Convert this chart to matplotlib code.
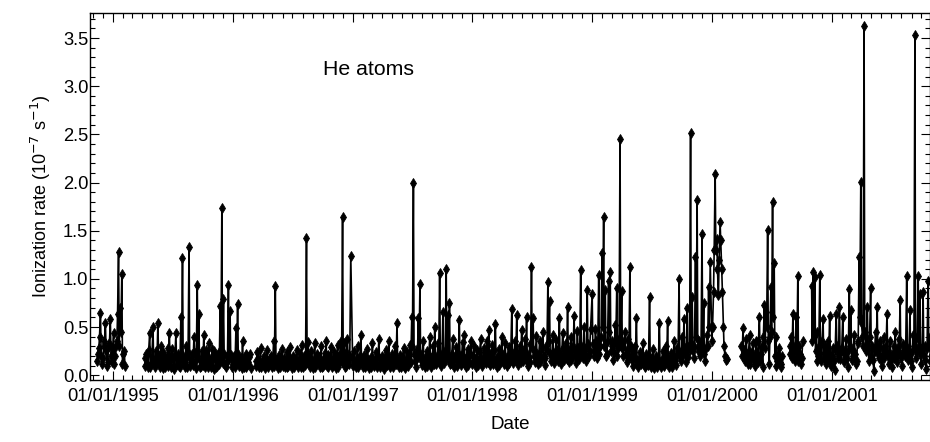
import numpy as np
import pandas as pd
import matplotlib
matplotlib.use('Agg')
import matplotlib.pyplot as plt
import matplotlib.dates as mdates
from matplotlib.ticker import MultipleLocator, FormatStrFormatter

plt.rcParams['font.family'] = ['Liberation Sans', 'DejaVu Sans']

# He ionization rate (1e-7 /s). Each stretch of data has a start date, a list of
# values every 5 days ("rate_") and a list of values 2 days after each of those ("mid_").
start_dates = ['1994-11-14', '1995-04-08', '1996-01-01', '1997-01-01', '1998-01-01',
               '1999-01-01', '2000-01-01', '2000-03-31', '2000-08-25', '2000-10-31']

rate_1994 = [0.15, 0.28, 0.65, 0.12, 0.30, 0.54, 0.10, 0.33, 0.58, 0.14,
             0.44, 0.20, 0.35, 1.28, 0.70, 1.05, 0.22, 0.10]
mid_1994 = [0.22, 0.40, 0.20, 0.18, 0.35, 0.25, 0.14, 0.30, 0.20, 0.28,
            0.12, 0.30, 0.63, 0.30, 0.45, 0.12, 0.25]

rate_1995 = [0.10, 0.22, 0.08, 0.44, 0.12, 0.50, 0.09, 0.25, 0.54, 0.11,
             0.30, 0.07, 0.20, 0.13, 0.28, 0.44, 0.09, 0.18, 0.06, 0.44,
             0.15, 0.10, 0.60, 1.22, 0.12, 0.30, 0.08, 1.33, 0.14, 0.22,
             0.40, 0.07, 0.94, 0.63, 0.10, 0.25, 0.42, 0.08, 0.19, 0.33,
             0.12, 0.27, 0.06, 0.21, 0.10, 0.24, 0.72, 1.74, 0.79, 0.11,
             0.20, 0.94, 0.67, 0.09]
mid_1995 = [0.18, 0.12, 0.26, 0.09, 0.20, 0.15, 0.11, 0.14, 0.20, 0.08,
            0.15, 0.24, 0.09, 0.19, 0.10, 0.16, 0.27, 0.08, 0.21, 0.12,
            0.22, 0.08, 0.16, 0.20, 0.09, 0.18, 0.24, 0.10, 0.17, 0.11,
            0.23, 0.16, 0.20, 0.08, 0.15, 0.11, 0.14, 0.26, 0.09, 0.18,
            0.08, 0.17, 0.25, 0.09, 0.16, 0.12, 0.20, 0.13, 0.22, 0.08,
            0.14, 0.18, 0.21]

rate_1996 = [0.12, 0.20, 0.49, 0.74, 0.10, 0.18, 0.35, 0.08, 0.22, 0.11,
             0.19, 0.07, np.nan, np.nan, 0.15, 0.24, 0.09, 0.28, 0.12, 0.20,
             0.07, 0.26, 0.14, 0.18, 0.08, 0.36, 0.93, 0.11, 0.21, 0.09,
             0.27, 0.13, 0.08, 0.24, 0.10, 0.29, 0.07, 0.20, 0.12, 0.26,
             0.09, 0.22, 0.31, 0.08, 0.18, 1.42, 0.34, 0.11, 0.25, 0.07,
             0.33, 0.12, 0.20, 0.09, 0.30, 0.10, 0.23, 0.35, 0.08, 0.19,
             0.29, 0.11, 0.24, 0.07, 0.31, 0.13, 0.36, 1.64, 0.33, 0.10,
             0.38, 0.12, 1.24]
mid_1996 = [0.16, 0.09, 0.14, 0.22, 0.13, 0.07, 0.15, 0.19, 0.08, 0.14,
            0.22, np.nan, np.nan, np.nan, 0.10, 0.17, 0.13, 0.08, 0.16, 0.11,
            0.17, 0.09, 0.12, 0.20, 0.15, 0.10, 0.16, 0.07, 0.18, 0.13,
            0.10, 0.18, 0.14, 0.08, 0.19, 0.11, 0.15, 0.09, 0.17, 0.12,
            0.16, 0.08, 0.13, 0.20, 0.11, 0.14, 0.19, 0.08, 0.16, 0.13,
            0.09, 0.22, 0.14, 0.18, 0.08, 0.17, 0.12, 0.10, 0.21, 0.13,
            0.08, 0.18, 0.12, 0.20, 0.09, 0.22, 0.14, 0.19, 0.08, 0.24,
            0.16, 0.20]

rate_1997 = [0.10, 0.25, 0.08, 0.30, 0.12, 0.42, 0.09, 0.21, 0.14, 0.27,
             0.07, 0.19, 0.33, 0.10, 0.24, 0.08, 0.38, 0.13, 0.20, 0.06,
             0.26, 0.11, 0.35, 0.09, 0.22, 0.14, 0.30, 0.54, 0.08, 0.21,
             0.12, 0.28, 0.07, 0.24, 0.10, 0.31, 0.60, 1.99, 0.15, 0.27,
             0.59, 0.95, 0.11, 0.36, 0.08, 0.25, 0.14, 0.40, 0.09, 0.30,
             0.50, 0.12, 0.33, 1.06, 0.10, 0.66, 0.16, 1.10, 0.62, 0.75,
             0.13, 0.38, 0.09, 0.29, 0.15, 0.57, 0.11, 0.34, 0.42, 0.08,
             0.27, 0.14, 0.36]
mid_1997 = [0.16, 0.13, 0.18, 0.09, 0.20, 0.14, 0.12, 0.09, 0.18, 0.11,
            0.15, 0.09, 0.17, 0.14, 0.12, 0.20, 0.09, 0.16, 0.12, 0.17,
            0.14, 0.19, 0.12, 0.15, 0.08, 0.19, 0.12, 0.15, 0.14, 0.09,
            0.19, 0.10, 0.15, 0.17, 0.20, 0.14, 0.30, 0.22, 0.09, 0.18,
            0.24, 0.16, 0.20, 0.13, 0.18, 0.10, 0.21, 0.15, 0.19, 0.12,
            0.20, 0.17, 0.14, 0.22, 0.18, 0.13, 0.25, 0.20, 0.16, 0.12,
            0.22, 0.15, 0.19, 0.10, 0.23, 0.17, 0.21, 0.14, 0.12, 0.20,
            0.11, 0.22]

rate_1998 = [0.12, 0.30, 0.09, 0.26, 0.15, 0.38, 0.10, 0.28, 0.13, 0.35,
             0.47, 0.11, 0.31, 0.16, 0.53, 0.09, 0.27, 0.14, 0.40, 0.12,
             0.33, 0.10, 0.29, 0.18, 0.69, 0.13, 0.36, 0.62, 0.11, 0.30,
             0.47, 0.15, 0.38, 0.60, 0.10, 0.32, 1.12, 0.59, 0.14, 0.41,
             0.12, 0.35, 0.17, 0.45, 0.11, 0.30, 0.97, 0.77, 0.15, 0.42,
             0.13, 0.37, 0.18, 0.59, 0.12, 0.44, 0.16, 0.33, 0.71, 0.14,
             0.40, 0.19, 0.61, 0.13, 0.46, 0.17, 1.09, 0.22, 0.50, 0.15,
             0.88, 0.20, 0.48]
mid_1998 = [0.20, 0.16, 0.18, 0.11, 0.24, 0.17, 0.16, 0.21, 0.19, 0.14,
            0.22, 0.18, 0.12, 0.26, 0.15, 0.20, 0.11, 0.24, 0.18, 0.21,
            0.15, 0.19, 0.13, 0.25, 0.22, 0.20, 0.16, 0.24, 0.19, 0.14,
            0.26, 0.20, 0.16, 0.22, 0.19, 0.14, 0.28, 0.20, 0.25, 0.17,
            0.22, 0.14, 0.28, 0.20, 0.18, 0.26, 0.35, 0.22, 0.19, 0.24,
            0.20, 0.26, 0.15, 0.22, 0.18, 0.28, 0.21, 0.17, 0.27, 0.22,
            0.16, 0.30, 0.24, 0.19, 0.28, 0.23, 0.30, 0.18, 0.27, 0.21,
            0.32, 0.25]

rate_1999 = [0.84, 0.25, 0.48, 0.18, 1.04, 0.30, 1.27, 1.64, 0.88, 0.22,
             0.98, 1.07, 0.35, 0.16, 0.52, 0.91, 0.28, 2.45, 0.87, 0.20,
             0.45, 0.14, 0.38, 1.12, 0.25, 0.10, 0.30, 0.59, 0.09, 0.24,
             0.12, 0.33, 0.08, 0.22, 0.11, 0.81, 0.09, 0.27, 0.07, 0.20,
             0.12, 0.54, 0.08, 0.25, 0.10, 0.30, 0.56, 0.09, 0.23, 0.13,
             0.35, 0.11, 0.28, 1.00, 0.15, 0.40, 0.58, 0.14, 0.70, 0.30,
             2.51, 0.81, 0.18, 1.23, 1.82, 0.35, 0.20, 1.47, 0.75, 0.15,
             0.42, 0.92, 1.17]
mid_1999 = [0.32, 0.20, 0.35, 0.27, 0.22, 0.40, 0.50, 0.30, 0.20, 0.35,
            0.45, 0.25, 0.30, 0.24, 0.32, 0.20, 0.38, 0.30, 0.28, 0.35,
            0.22, 0.26, 0.20, 0.30, 0.16, 0.20, 0.18, 0.12, 0.17, 0.15,
            0.20, 0.14, 0.10, 0.16, 0.20, 0.13, 0.18, 0.10, 0.14, 0.09,
            0.17, 0.13, 0.16, 0.12, 0.20, 0.15, 0.18, 0.14, 0.09, 0.22,
            0.16, 0.19, 0.25, 0.20, 0.24, 0.21, 0.28, 0.22, 0.19, 0.26,
            0.33, 0.25, 0.30, 0.40, 0.28, 0.24, 0.33, 0.27, 0.22, 0.28,
            0.30, 0.50]

rate_2000a = [0.35, 0.86, 2.09, 1.41, 0.83, 1.59, 1.10, 0.50, 0.20, 0.17]
mid_2000a = [0.50, 1.30, 1.30, 1.10, 1.20, 1.40, 0.86, 0.30, 0.16]

rate_2000b = [0.30, 0.49, 0.15, 0.38, 0.12, 0.42, 0.18, 0.33, 0.10, 0.36,
              0.14, 0.60, 0.22, 0.08, 0.73, 0.66, 1.51, 0.12, 0.92, 1.80,
              1.16, 0.40, 0.15, 0.28, 0.09, 0.20]
mid_2000b = [0.20, 0.26, 0.22, 0.18, 0.25, 0.12, 0.24, 0.16, 0.20, 0.22,
             0.35, 0.15, 0.30, 0.40, 0.28, 0.50, 0.35, 0.40, 0.45, 0.60,
             0.20, 0.10, 0.22, 0.14, 0.12]

rate_2000c = [0.22, 0.40, 0.63, 0.15, 0.60, 1.03, 0.30, 0.12, 0.35]
mid_2000c = [0.30, 0.18, 0.25, 0.30, 0.20, 0.15, 0.22, 0.18]

rate_2001 = [0.93, 1.07, 1.02, 0.45, 0.20, 1.04, 0.15, 0.58, 0.30, 0.12,
             0.35, 0.61, 0.10, 0.28, 0.05, 0.64, 0.18, 0.71, 0.25, 0.60,
             0.14, 0.38, 0.08, 0.89, 0.68, 0.20, 0.42, 0.12, 0.33, 1.23,
             2.01, 0.40, 3.63, 0.25, 0.71, 0.15, 0.91, 0.30, 0.04, 0.45,
             0.71, 0.18, 0.36, 0.10, 0.40, 0.22, 0.64, 0.12, 0.35, 0.08,
             0.30, 0.45, 0.14, 0.38, 0.78, 0.10, 0.32, 0.20, 1.03, 0.16,
             0.68, 0.09, 0.42, 3.53, 0.25, 1.03, 0.84, 0.12, 0.86, 0.30,
             0.06, 0.98, 0.40, 0.20]
mid_2001 = [0.35, 0.40, 0.25, 0.15, 0.30, 0.22, 0.35, 0.18, 0.24, 0.20,
            0.16, 0.22, 0.20, 0.15, 0.27, 0.30, 0.22, 0.17, 0.28, 0.24,
            0.22, 0.18, 0.25, 0.30, 0.16, 0.26, 0.22, 0.15, 0.35, 0.60,
            0.55, 0.30, 0.45, 0.30, 0.26, 0.40, 0.20, 0.16, 0.25, 0.28,
            0.22, 0.30, 0.16, 0.27, 0.18, 0.30, 0.20, 0.24, 0.16, 0.22,
            0.18, 0.25, 0.22, 0.30, 0.18, 0.22, 0.26, 0.30, 0.20, 0.25,
            0.15, 0.24, 0.30, 0.18, 0.40, 0.30, 0.22, 0.28, 0.20, 0.16,
            0.28, 0.30, 0.15]

rates_main = [rate_1994, rate_1995, rate_1996, rate_1997, rate_1998,
              rate_1999, rate_2000a, rate_2000b, rate_2000c, rate_2001]
rates_mid = [mid_1994, mid_1995, mid_1996, mid_1997, mid_1998,
             mid_1999, mid_2000a, mid_2000b, mid_2000c, mid_2001]


def build_series(starts, main, mid, step=5, offset=2):
    # merge both sample lists; a NaN breaks the line across data gaps
    dates, rates = [], []
    last = None
    for s, vals, between in zip(starts, main, mid):
        d_main = pd.date_range(s, periods=len(vals), freq=f'{step}D')
        d_mid = d_main[:len(between)] + pd.Timedelta(days=offset)
        d = d_main.append(d_mid)
        v = np.concatenate([np.asarray(vals, float), np.asarray(between, float)])
        order = np.argsort(d.values)
        d, v = d[order], v[order]
        if last is not None and (d[0] - last).days > 2 * step:
            dates.append(last + pd.Timedelta(days=1))
            rates.append(np.nan)
        dates.extend(d)
        rates.extend(v)
        last = d[-1]
    return pd.DatetimeIndex(dates), np.array(rates, dtype=float)


dates, rates = build_series(start_dates, rates_main, rates_mid)

fig = plt.figure(figsize=(9.3, 4.42), dpi=100)
ax = fig.add_axes([90 / 930, 62 / 442, 840 / 930, 367 / 442])

ax.plot(dates, rates, '-', color='black', lw=1.2,
        marker='d', ms=4.6, mfc='black', mec='black', mew=0.6)

ax.set_xlim(pd.Timestamp('1994-10-23'), pd.Timestamp('2001-10-27'))
ax.set_ylim(-0.05, 3.76)

ax.xaxis.set_major_locator(mdates.YearLocator())
ax.xaxis.set_major_formatter(mdates.DateFormatter('%m/%d/%Y'))
ax.xaxis.set_minor_locator(mdates.MonthLocator())
ax.yaxis.set_major_locator(MultipleLocator(0.5))
ax.yaxis.set_minor_locator(MultipleLocator(0.1))
ax.yaxis.set_major_formatter(FormatStrFormatter('%.1f'))

ax.tick_params(which='both', direction='in', top=True, right=True, width=0.8)
ax.tick_params(which='major', length=6.5, labelsize=13.2)
ax.tick_params(axis='x', which='major', pad=5.5)
ax.tick_params(axis='y', which='major', pad=1.2)
ax.tick_params(which='minor', length=3.5)
for sp in ax.spines.values():
    sp.set_linewidth(1.0)

ax.set_xlabel('Date', fontsize=13.5, labelpad=8)
ax.set_ylabel('Ionization rate (10$^{-7}$ s$^{-1}$)', fontsize=13, labelpad=7)
ax.text(0.277, 0.847, 'He atoms', transform=ax.transAxes, fontsize=15.3,
        ha='left', va='center')

fig.savefig('out.png', dpi=100)
